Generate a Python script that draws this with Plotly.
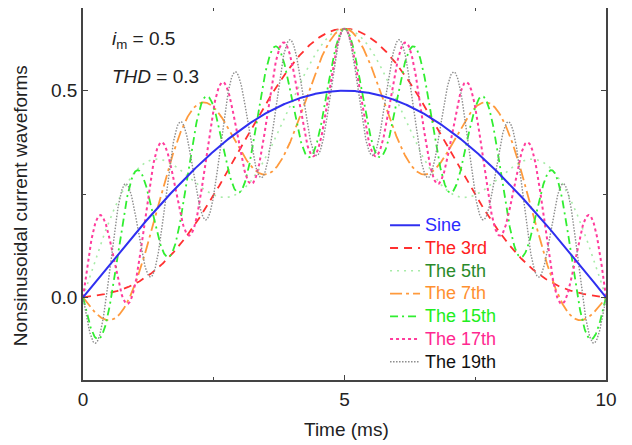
import numpy as np
import plotly.graph_objs as go

# parameters shown on the chart
im = 0.5
thd = 0.3
orders = [3, 5, 7, 15, 17, 19]
names = ['The 3rd', 'The 5th', 'The 7th', 'The 15th', 'The 17th', 'The 19th']
t_ms = np.linspace(0, 10, 1201)  # half period of 50 Hz

line_colors = ['#ff3030', '#a8eca8', '#ff9a3c', '#30ee30', '#ff3c9c', '#8c8c8c']
text_colors = ['#ff2020', '#2a8a2a', '#ff9030', '#20ee20', '#ff2890', '#111111']
dashes = ['8px,6px', '2px,5px', '12px,4px,3px,4px', '8px,4px,2px,4px', '3px,3px', '1.5px,1.5px']
widths = [1.8, 1.6, 1.8, 1.8, 2.0, 1.4]

wt = np.pi * t_ms / 10
sine = im * np.sin(wt)

label_tpl = '<span style="color:%s;font-size:18px">%s</span>'

traces = []
for k, n in enumerate(orders):
    # harmonic phase chosen so every waveform peaks at the centre
    y = im * (np.sin(wt) + thd * np.sin(n * np.pi / 2) * np.sin(n * wt))
    traces.append(go.Scatter(
        x=t_ms, y=y, mode='lines',
        line=dict(color=line_colors[k], width=widths[k], dash=dashes[k]),
        name=label_tpl % (text_colors[k], names[k]),
        legendrank=k + 2,
    ))

traces.append(go.Scatter(
    x=t_ms, y=sine, mode='lines',
    line=dict(color='#2f2ff0', width=2),
    name=label_tpl % ('#2b2bff', 'Sine'),
    legendrank=1,
))

axis_style = dict(
    showline=True, mirror='allticks', linecolor='#444444', linewidth=1.5,
    ticks='inside', ticklen=5, tickcolor='#444444', tickwidth=1.2,
    showgrid=False, zeroline=False, automargin=False,
    tickfont=dict(size=19, color='#222222'),
    minor=dict(ticks='inside', ticklen=3, tickcolor='#444444'),
)

layout = go.Layout(
    width=632, height=445,
    # page body adds an 8px offset; margins compensate for it
    margin=dict(l=75, r=34, t=0, b=73),
    paper_bgcolor='white', plot_bgcolor='white',
    font=dict(family='Liberation Sans, Arial', color='#222222'),
    xaxis=dict(axis_style, range=[0, 10], tickvals=[0, 5, 10],
               minor=dict(axis_style['minor'], tickvals=[2.5, 7.5]),
               ticklabelstandoff=1),
    yaxis=dict(axis_style, range=[-0.2, 0.7], tickvals=[0.0, 0.5], tickformat='.1f',
               minor=dict(axis_style['minor'], tickvals=[-0.25, 0.25])),
    legend=dict(x=0.5775, y=0.46, xanchor='left', yanchor='top',
                bgcolor='rgba(0,0,0,0)', font=dict(size=15.2),
                tracegroupgap=0, itemwidth=30),
    showlegend=True,
    annotations=[
        dict(text='<i>i</i><sub>m</sub> = 0.5', x=0.052, y=0.914, xref='paper', yref='paper',
             xanchor='left', yanchor='middle', showarrow=False, font=dict(size=19)),
        dict(text='<i>THD</i> = 0.3', x=0.052, y=0.815, xref='paper', yref='paper',
             xanchor='left', yanchor='middle', showarrow=False, font=dict(size=19)),
        dict(text='Time (ms)', x=0.503, y=-0.134, xref='paper', yref='paper',
             xanchor='center', yanchor='middle', showarrow=False, font=dict(size=19)),
        dict(text='Nonsinusoidal current waveforms', x=-0.1205, y=0.47, xref='paper', yref='paper',
             xanchor='center', yanchor='middle', textangle=-90, showarrow=False,
             font=dict(size=19)),
    ],
)

fig = go.Figure(data=traces, layout=layout)
fig.write_html("out.html")
